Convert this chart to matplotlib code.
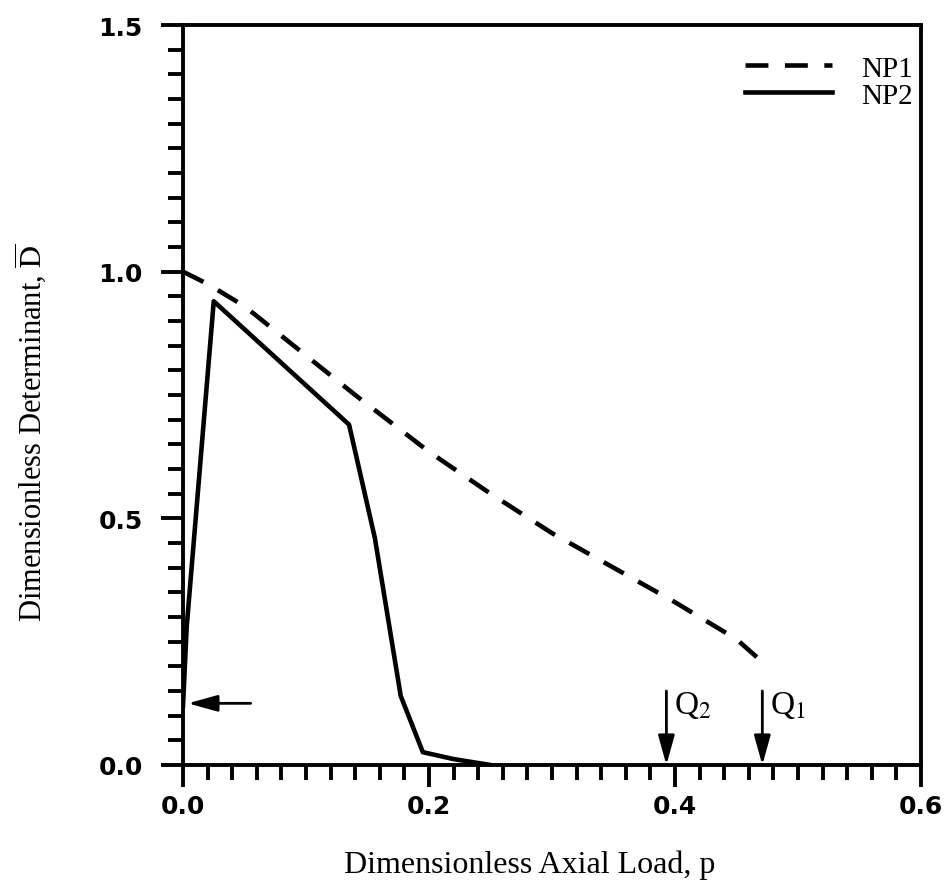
import matplotlib
matplotlib.use("Agg")
import matplotlib.pyplot as plt
from matplotlib.ticker import MultipleLocator, FormatStrFormatter

# NP1 (dashed)
np1_p = [0.0, 0.02, 0.05, 0.10, 0.14, 0.20, 0.25, 0.30, 0.35, 0.40, 0.45, 0.475]
np1_d = [1.0, 0.975, 0.93, 0.83, 0.75, 0.635, 0.55, 0.47, 0.40, 0.33, 0.255, 0.20]

# NP2 (solid)
np2_p = [0.0, 0.003, 0.025, 0.08, 0.135, 0.156, 0.177, 0.195, 0.22, 0.25]
np2_d = [0.12, 0.28, 0.94, 0.815, 0.69, 0.46, 0.14, 0.026, 0.012, 0.0]

# marker arrows
q_labels = ["Q$_2$", "Q$_1$"]
q_p = [0.393, 0.471]
q_top = 0.15
left_arrow_d = 0.125

plt.rcParams["font.family"] = ["Liberation Serif", "DejaVu Serif"]
plt.rcParams["mathtext.fontset"] = "stix"

fig = plt.figure(figsize=(9.45, 8.95), dpi=100)
ax = fig.add_axes([183 / 945, 1 - 766 / 895, (921 - 183) / 945, (766 - 26) / 895])

lw = 3.3
ax.plot(np1_p, np1_d, color="black", lw=lw, linestyle=(0, (5.0, 3.6)), label="NP1")
ax.plot(np2_p, np2_d, color="black", lw=lw, label="NP2")

ax.set_xlim(0, 0.6)
ax.set_ylim(0, 1.5)
ax.xaxis.set_major_locator(MultipleLocator(0.2))
ax.xaxis.set_minor_locator(MultipleLocator(0.02))
ax.yaxis.set_major_locator(MultipleLocator(0.5))
ax.yaxis.set_minor_locator(MultipleLocator(0.05))
ax.xaxis.set_major_formatter(FormatStrFormatter("%.1f"))
ax.yaxis.set_major_formatter(FormatStrFormatter("%.1f"))

for s in ax.spines.values():
    s.set_linewidth(2.8)
ax.tick_params(which="major", direction="out", length=16, width=2.8)
ax.tick_params(which="minor", direction="out", length=11, width=2.8)
ax.tick_params(axis="x", which="major", pad=5)
ax.tick_params(axis="y", which="major", pad=13)
for lab in ax.get_xticklabels() + ax.get_yticklabels():
    lab.set_family("DejaVu Sans")
    lab.set_fontweight("bold")
    lab.set_fontsize(18)

ax.set_xlabel("Dimensionless Axial Load, p", fontsize=23)
ax.xaxis.set_label_coords(0.47, -0.134)
ax.xaxis.label.set_va("center")
ax.set_ylabel(r"Dimensionless Determinant, $\overline{\mathrm{D}}$", fontsize=22)
ax.yaxis.set_label_coords(-0.207, 0.45)
ax.yaxis.label.set_va("center")

leg = ax.legend(loc="upper right", frameon=False, fontsize=21, handlelength=3.0,
                handletextpad=1.0, labelspacing=0.02, borderaxespad=0.0,
                bbox_to_anchor=(1.005, 0.975))

arrow_kw = dict(arrowstyle="-|>,head_length=1.8,head_width=0.5", color="black",
                lw=2.0, mutation_scale=10, shrinkA=0, shrinkB=0)
ax.annotate("", xy=(0.004, left_arrow_d), xytext=(0.055, left_arrow_d), arrowprops=arrow_kw)
for lbl, qp in zip(q_labels, q_p):
    ax.annotate("", xy=(qp, 0.0), xytext=(qp, q_top), arrowprops=arrow_kw)
    ax.text(qp + 0.006, q_top - 0.045, lbl, fontsize=24, ha="left", va="baseline")

fig.savefig("out.png", dpi=100)
